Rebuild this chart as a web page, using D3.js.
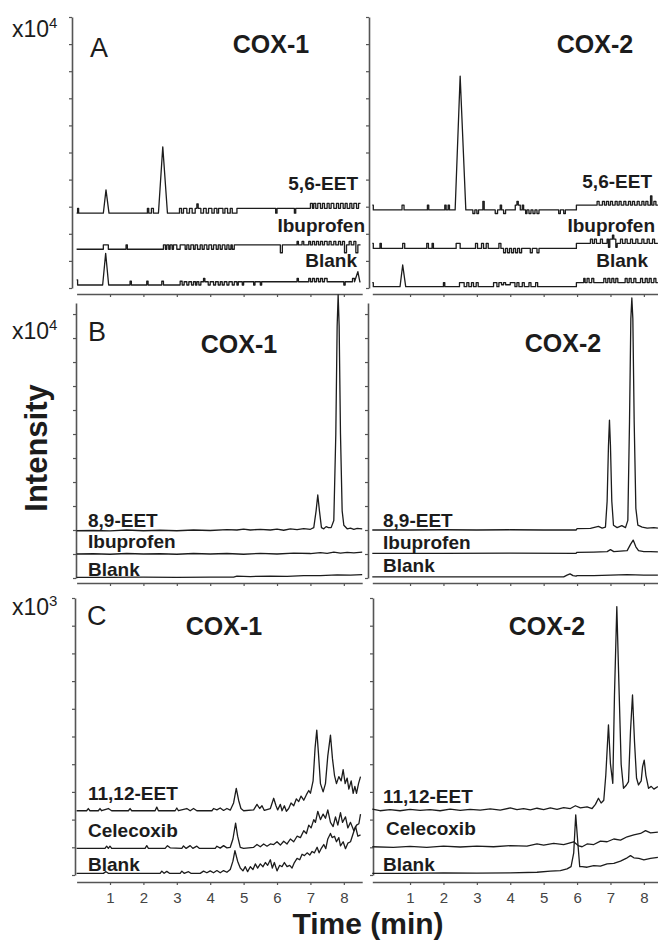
<!DOCTYPE html>
<html>
<head>
<meta charset="utf-8">
<script src="https://cdn.jsdelivr.net/npm/d3@7"></script>
<style>
  body { margin: 0; background: #fff; }
  svg { display: block; font-family: "Liberation Sans", Arial, sans-serif; }
</style>
</head>
<body>
<div id="chart"></div>
<script>
// Time ticks (min) and panel labels
const timeTicks = [1, 2, 3, 4, 5, 6, 7, 8];
const panelLetters = ['A', 'B', 'C'];
const multipliers = ['4', '4', '3'];
const enzymes = ['COX-1', 'COX-2'];
const traceNames = [
	['5,6-EET', 'Ibuprofen', 'Blank'],
	['8,9-EET', 'Ibuprofen', 'Blank'],
	['11,12-EET', 'Celecoxib', 'Blank'],
];

// Intensity in y tick units, [time, value]
// Panel A: digitised traces; a point steps to its value, unless it carries a 1 (then it ramps)
const a1Eet = [[0,2.76],[0.03,2.94],[0.06,2.76],[0.8,2.76],[0.88,3.62,1],[0.97,2.76,1],
	[2.12,2.94],[2.16,2.76],[2.24,2.94],[2.3,2.76],[2.45,2.76],[2.58,5.21,1],[2.72,2.76,1],
	[3.08,2.94],[3.14,2.76],[3.2,2.94],[3.3,2.76],[3.38,2.94],[3.46,2.76],[3.55,2.94],[3.6,3.1],[3.64,2.94],[3.72,2.76],[3.8,2.94],[3.88,2.76],
	[3.95,2.94],[4.05,2.76],[4.12,2.94],[4.2,2.76],[4.25,2.94],[4.38,2.76],[4.44,2.94],[4.52,2.76],[4.6,2.94],[4.66,2.76],[4.8,2.94],
	[5.96,2.76],[6.0,2.94],[6.52,2.76],[6.56,2.94],[7.0,3.12],[7.06,2.94],[7.1,3.12],[7.16,2.94],[7.22,3.12],[7.3,2.94],[7.36,3.12],
	[7.42,2.94],[7.5,3.12],[7.56,2.94],[7.62,3.12],[7.7,2.94],[7.78,3.12],[7.84,2.94],[7.9,3.12],[7.98,2.94],[8.04,3.12],[8.1,2.94],
	[8.18,3.12],[8.24,2.94],[8.3,3.12],[8.38,2.94],[8.44,3.12],[8.5,3.12]];
const a1Ibu = [[0,1.43],[0.8,1.59],[0.95,1.43],[1.48,1.59],[1.52,1.43],[2.6,1.59],[2.66,1.43],[2.7,1.59],[2.76,1.43],[2.8,1.59],[2.86,1.43],
	[2.9,1.59],[3.0,1.43],[3.1,1.59],[3.25,1.43],[3.3,1.59],[3.36,1.43],[3.42,1.59],[3.5,1.43],[3.55,1.59],[3.62,1.43],[3.7,1.59],[3.76,1.43],
	[3.82,1.59],[3.9,1.43],[3.96,1.59],[4.04,1.43],[4.1,1.59],[4.18,1.43],[4.24,1.59],[4.3,1.43],[4.36,1.59],[4.44,1.43],[4.5,1.59],[4.56,1.43],
	[4.62,1.59],[4.66,1.43],[4.72,1.59],[6.1,1.3],[6.16,1.59],[6.6,1.72],[6.64,1.59],[6.75,1.72],[6.8,1.59],[6.95,1.72],[7.0,1.59],[7.06,1.72],
	[7.12,1.59],[7.18,1.72],[7.24,1.59],[7.3,1.72],[7.36,1.59],[7.42,1.72],[7.5,1.59],[7.56,1.72],[7.62,1.59],[7.7,1.72],[7.76,1.59],[7.84,1.72],
	[7.9,1.59],[7.96,1.72],[8.02,1.3],[8.08,1.59],[8.16,1.72],[8.22,1.59],[8.3,1.72],[8.36,1.3],[8.42,1.59],[8.5,1.59]];
const a1Blank = [[0,0.3],[0.03,0.11],[0.78,0.11],[0.87,1.28,1],[0.96,0.11,1],[1.6,0.25],[1.64,0.11],[2.1,0.25],
	[2.14,0.11],[2.55,0.25],[2.6,0.11],[3.1,0.25],[3.16,0.11],[3.22,0.23],[3.3,0.11],[3.36,0.23],[3.44,0.11],[3.5,0.23],[3.56,0.11],[3.6,0.23],
	[3.66,0.11],[3.72,0.23],[3.8,0.35],[3.84,0.23],[3.94,0.11],[4.0,0.23],[4.1,0.11],[4.16,0.23],[4.24,0.11],[4.3,0.23],[4.36,0.11],[4.42,0.23],
	[4.5,0.11],[4.56,0.23],[4.66,0.11],[4.72,0.23],[4.8,0.11],[4.84,0.23],[4.96,0.11],[5.0,0.23],[5.3,0.11],[5.34,0.23],[5.5,0.11],[5.54,0.23],
	[6.6,0.35],[6.64,0.23],[6.95,0.35],[7.0,0.23],[7.06,0.35],[7.12,0.23],[7.18,0.35],[7.24,0.23],[7.3,0.35],[7.36,0.23],[7.42,0.35],[7.5,0.23],
	[8.0,0.11],[8.04,0.23],[8.26,0.35],[8.32,0.23],[8.42,0.6,1],[8.48,0.23,1],[8.5,0.23]];
const a2Eet = [[-0.13,3.06],[-0.1,2.88],[0.76,3.06],[0.82,2.88],[1.52,3.06],[1.56,2.88],[2.04,3.06],[2.08,2.88],[2.14,3.06],[2.18,2.88],
	[2.35,2.88],[2.5,7.82,1],[2.67,2.88,1],
	[2.88,2.75],[2.94,2.88],[3.0,2.75],[3.05,2.88],[3.18,3.2],[3.22,2.88],[3.55,2.75],[3.62,2.88],[3.7,3.06],[3.74,2.88],[3.8,2.75],[3.86,2.88],
	[4.15,3.06],[4.2,3.2],[4.24,3.06],[4.3,2.88],[4.36,3.06],[4.4,2.88],[4.46,2.75],[4.5,2.88],[4.56,2.75],[4.62,2.88],[4.68,2.75],[4.74,2.88],
	[4.8,2.75],[4.86,2.88],[5.45,2.75],[5.5,2.88],[5.6,2.75],[5.65,2.88],[5.98,3.06],[6.6,3.2],[6.66,3.06],[6.76,3.2],[6.82,3.06],[6.88,3.2],
	[6.94,3.06],[7.0,3.2],[7.06,3.06],[7.14,3.2],[7.2,3.06],[7.26,3.2],[7.32,3.06],[7.4,3.2],[7.46,3.06],[7.54,3.2],[7.6,3.06],[7.66,3.2],
	[7.72,3.06],[7.8,3.2],[7.86,3.06],[7.94,3.2],[8.0,3.06],[8.06,3.2],[8.12,3.06],[8.2,3.4],[8.24,3.06],[8.3,3.2],[8.36,3.06],[8.42,3.06]];
const a2Ibu = [[-0.13,1.65],[-0.1,1.46],[0.1,1.65],[0.14,1.46],[0.78,1.65],[0.84,1.46],[1.5,1.65],[1.55,1.46],[1.66,1.65],[1.7,1.46],
	[2.38,1.65],[2.5,1.46],[2.96,1.65],[3.02,1.46],[3.14,1.65],[3.2,1.46],[3.28,1.65],[3.34,1.46],[3.66,1.65],[3.72,1.46],[3.8,1.3],[3.86,1.46],
	[3.92,1.3],[3.98,1.46],[4.04,1.3],[4.1,1.46],[4.16,1.3],[4.22,1.46],[4.28,1.3],[4.34,1.46],[4.6,1.3],[4.66,1.46],[4.8,1.3],[4.86,1.46],
	[5.98,1.65],[6.4,1.8],[6.46,1.65],[6.52,1.8],[6.58,1.65],[6.7,1.8],[6.76,1.65],[6.9,1.8],[6.94,1.5],[6.98,1.8],[7.06,1.95],[7.1,1.8],
	[7.16,1.5],[7.2,1.65],[7.3,1.8],[7.36,1.65],[7.44,1.8],[7.5,1.65],[7.6,1.8],[7.66,1.65],[7.76,1.8],[7.82,1.65],[7.94,1.8],[8.0,1.65],
	[8.1,1.8],[8.16,1.65],[8.26,1.8],[8.32,1.65],[8.42,1.65]];
const a2Blank = [[-0.13,0.2],[-0.1,0.05],[0.7,0.05],[0.78,0.85,1],[0.87,0.05,1],[2.0,0.2],[2.04,0.05],[2.48,0.2],
	[2.62,0.05],[2.7,0.2],[2.76,0.05],[2.84,0.2],[2.9,0.05],[2.98,0.2],[3.04,0.05],[3.5,0.2],[3.6,0.05],[3.66,0.2],[3.74,0.12],[3.8,0.2],
	[3.86,0.12],[4.0,0.2],[4.14,0.05],[4.2,0.2],[4.26,0.05],[4.36,0.2],[4.42,0.05],[4.56,0.2],[4.62,0.05],[4.76,0.2],[4.82,0.05],[5.98,0.2],
	[6.2,0.35],[6.24,0.2],[6.3,0.35],[6.36,0.2],[6.44,0.35],[6.5,0.2],[6.8,0.35],[6.86,0.2],[6.92,0.35],[6.98,0.2],[7.04,0.35],[7.1,0.2],
	[7.16,0.35],[7.22,0.2],[7.44,0.35],[7.5,0.2],[7.56,0.35],[7.62,0.2],[7.7,0.35],[7.76,0.2],[7.9,0.35],[7.96,0.2],[8.04,0.35],[8.1,0.2],
	[8.16,0.35],[8.22,0.2],[8.3,0.35],[8.36,0.2],[8.42,0.2]];

// Panel B
const b1Eet = [[0,1.97],[0.5,1.98],[1,1.96],[1.5,2.0],[2,1.97],[2.5,1.99],[3,1.97],[3.5,2.0],[4,1.98],[4.5,2.02],[4.8,2.0],[5,2.04],[5.2,2.0],
	[5.5,2.03],[5.8,2.0],[6,2.04],[6.2,1.99],[6.4,2.05],[6.6,2.02],[6.8,2.06],[7,2.03],[7.1,2.1],[7.17,2.8],[7.22,3.46],[7.27,2.8],[7.33,2.1],
	[7.4,2.05],[7.47,2.14],[7.54,2.1],[7.62,2.1],[7.7,2.4],[7.76,6.0],[7.8,10.5],[7.83,11.8],[7.86,10.5],[7.9,6.0],[7.95,2.8],[8,2.2],
	[8.1,2.05],[8.2,2.08],[8.3,2.03],[8.4,2.07],[8.55,2.05]];
const b1Ibu = [[0,1.0],[0.5,1.01],[1,0.99],[1.5,1.02],[2,1.0],[2.5,1.01],[3,0.99],[3.5,1.02],[4,1.0],[4.5,1.02],[5,0.99],[5.5,1.03],[6,1.0],
	[6.5,1.04],[7,1.02],[7.3,1.06],[7.5,1.03],[7.7,1.08],[7.9,1.04],[8.1,1.07],[8.3,1.05],[8.55,1.08]];
const b1Blank = [[0,0.03],[1,0.03],[2,0.04],[3,0.03],[4,0.04],[4.7,0.04],[4.8,0.08],[5.2,0.06],[5.8,0.08],[6.3,0.07],[6.8,0.1],[7.3,0.1],
	[7.8,0.13],[8.2,0.12],[8.55,0.14]];
const b2Eet = [[-0.13,2.0],[1,2.0],[2,2.01],[3,2.0],[4,2.01],[5,2.0],[5.97,2.0],[6,2.06],[6.4,2.07],[6.64,2.15],[6.75,2.08],[6.85,2.12],
	[6.9,3.2],[6.94,5.5],[6.97,6.58],[7,5.5],[7.04,3.2],[7.09,2.2],[7.2,2.1],[7.34,2.18],[7.45,2.1],[7.52,2.4],[7.57,6.5],[7.61,10.8],
	[7.64,11.67],[7.67,10.8],[7.71,6.5],[7.76,2.9],[7.82,2.2],[7.95,2.12],[8.1,2.08],[8.3,2.1],[8.42,2.08]];
const b2Ibu = [[-0.13,1.03],[2,1.03],[4,1.04],[5.97,1.03],[6,1.07],[6.5,1.08],[6.9,1.1],[7,1.18],[7.1,1.1],[7.3,1.12],[7.5,1.14],[7.6,1.4],
	[7.68,1.58],[7.76,1.3],[7.84,1.14],[8,1.1],[8.2,1.1],[8.42,1.09]];
const b2Blank = [[-0.13,0.05],[3,0.05],[5.6,0.05],[5.7,0.12],[5.79,0.17],[5.88,0.1],[5.97,0.08],[6,0.1],[6.5,0.1],[7,0.12],[7.5,0.14],
	[8,0.12],[8.42,0.12]];

// Panel C
const c1Eet = [[0,2.32],[0.3,2.32],[0.35,2.4],[0.4,2.32],[0.65,2.32],[0.7,2.4],[0.75,2.32],[0.95,2.4],[1.05,2.32],[1.55,2.32],[1.6,2.4],
	[1.65,2.32],[2.35,2.32],[2.4,2.45],[2.45,2.32],[2.95,2.32],[3,2.42],[3.05,2.32],[3.3,2.4],[3.4,2.32],[3.5,2.4],[3.6,2.32],[4.05,2.32],
	[4.1,2.4],[4.2,2.35],[4.3,2.42],[4.4,2.33],[4.5,2.4],[4.6,2.34],[4.7,2.6],[4.78,3.13],[4.85,2.7],[4.92,2.4],[5,2.32],[5.3,2.35],[5.4,2.55],
	[5.48,2.4],[5.55,2.5],[5.62,2.33],[5.8,2.4],[5.9,2.77],[5.97,2.5],[6.02,2.35],[6.1,2.55],[6.15,2.32],[6.22,2.5],[6.28,2.3],[6.35,2.4],
	[6.42,2.6],[6.5,2.5],[6.58,2.75],[6.65,2.65],[6.72,2.85],[6.8,2.7],[6.88,2.9],[6.95,3.05],[7,2.95],[7.08,3.4],[7.14,4.6],[7.19,5.23],
	[7.24,4.4],[7.3,3.3],[7.38,3.0],[7.45,3.3],[7.52,4.3],[7.6,5.05],[7.66,4.2],[7.72,3.6],[7.78,3.3],[7.85,3.55],[7.92,3.4],[7.98,3.8],
	[8.04,3.3],[8.1,3.5],[8.15,3.1],[8.22,3.4],[8.28,2.95],[8.33,3.2],[8.38,2.95],[8.44,3.3],[8.5,3.55]];
const c1Cel = [[0,0.96],[0.85,0.96],[0.9,1.04],[0.95,0.96],[1,1.04],[1.05,0.96],[2.05,0.96],[2.1,1.06],[2.15,0.96],[2.65,0.96],[2.72,1.06],
	[2.8,0.98],[3.15,0.96],[3.2,1.05],[3.28,0.96],[3.4,1.06],[3.48,0.96],[3.6,1.04],[3.68,0.96],[4.15,0.96],[4.2,1.04],[4.3,0.97],[4.4,1.06],
	[4.5,0.98],[4.6,1.0],[4.68,1.3],[4.76,1.87],[4.82,1.4],[4.9,1.0],[5,0.96],[5.3,1.0],[5.4,1.1],[5.5,1.02],[5.6,1.12],[5.7,1.04],[5.8,1.12],
	[5.9,1.1],[6,1.2],[6.1,1.08],[6.2,1.22],[6.3,1.12],[6.4,1.3],[6.5,1.2],[6.6,1.4],[6.7,1.35],[6.8,1.6],[6.88,1.5],[6.95,1.8],[7.02,1.7],
	[7.1,2.0],[7.15,1.9],[7.22,2.3],[7.3,2.0],[7.38,2.2],[7.45,2.05],[7.52,2.35],[7.6,1.9],[7.68,1.75],[7.75,2.1],[7.82,1.8],[7.9,2.25],
	[7.96,1.9],[8.05,2.1],[8.12,1.7],[8.2,1.9],[8.3,1.6],[8.38,1.8],[8.45,1.85],[8.5,2.2]];
const c1Blank = [[0,0.06],[0.8,0.06],[0.88,0.12],[0.95,0.06],[2.5,0.06],[2.55,0.14],[2.62,0.06],[2.7,0.13],[2.78,0.06],[3.1,0.06],[3.15,0.14],
	[3.22,0.06],[3.35,0.12],[3.42,0.06],[3.7,0.06],[3.8,0.14],[3.9,0.08],[4,0.15],[4.1,0.08],[4.2,0.16],[4.3,0.08],[4.4,0.16],[4.5,0.1],
	[4.6,0.2],[4.68,0.5],[4.74,0.88],[4.82,0.5],[4.9,0.25],[4.98,0.15],[5.05,0.3],[5.12,0.12],[5.2,0.3],[5.28,0.2],[5.35,0.4],[5.42,0.25],
	[5.5,0.4],[5.58,0.3],[5.65,0.45],[5.72,0.35],[5.8,0.55],[5.86,0.25],[5.92,0.45],[6,0.15],[6.08,0.35],[6.15,0.3],[6.22,0.45],[6.3,0.3],
	[6.38,0.35],[6.45,0.25],[6.52,0.45],[6.6,0.6],[6.68,0.55],[6.75,0.75],[6.82,0.7],[6.9,0.8],[6.98,0.72],[7.05,0.85],[7.12,0.8],[7.2,1.0],
	[7.26,0.8],[7.32,0.95],[7.4,1.1],[7.46,0.95],[7.52,1.3],[7.6,1.5],[7.65,1.35],[7.72,1.4],[7.78,1.2],[7.85,1.35],[7.9,1.05],[7.98,1.2],
	[8.05,0.95],[8.12,1.15],[8.2,1.2],[8.28,1.5],[8.35,1.75],[8.42,1.4],[8.5,1.45]];
const c2Eet = [[-0.13,2.38],[0.1,2.32],[0.4,2.36],[0.7,2.32],[1,2.37],[1.3,2.33],[1.6,2.36],[1.9,2.32],[2.2,2.38],[2.5,2.33],[2.8,2.37],
	[3.1,2.34],[3.4,2.39],[3.7,2.34],[4,2.42],[4.2,2.36],[4.4,2.4],[4.6,2.35],[4.8,2.41],[5,2.36],[5.2,2.42],[5.4,2.37],[5.6,2.43],[5.8,2.4],
	[5.95,2.5],[6.1,2.42],[6.3,2.46],[6.45,2.4],[6.55,2.55],[6.64,2.77],[6.72,2.6],[6.8,2.7],[6.86,3.6],[6.94,5.42],[7,4.0],[7.07,3.31],
	[7.12,6.5],[7.19,9.69],[7.25,7.0],[7.32,4.0],[7.39,3.13],[7.48,3.25],[7.54,3.37],[7.6,5.2],[7.66,6.5],[7.72,4.8],[7.78,3.5],[7.84,3.25],
	[7.92,3.4],[7.96,3.9],[8.01,4.15],[8.06,3.6],[8.14,3.13],[8.22,3.2],[8.3,3.1],[8.42,3.19]];
const c2Cel = [[-0.13,1.02],[0.5,1.0],[1,1.03],[1.5,1.0],[2,1.04],[2.5,1.01],[3,1.04],[3.5,1.02],[4,1.06],[4.5,1.04],[4.8,1.12],[5,1.08],
	[5.3,1.14],[5.6,1.1],[5.9,1.2],[6.05,1.05],[6.15,1.02],[6.3,1.12],[6.5,1.1],[6.7,1.22],[6.9,1.2],[7.1,1.3],[7.3,1.26],[7.5,1.38],
	[7.7,1.45],[7.9,1.5],[8.05,1.6],[8.2,1.52],[8.42,1.55]];
const c2Blank = [[-0.13,0.06],[1,0.06],[2,0.08],[3,0.07],[4,0.08],[4.8,0.1],[5.2,0.14],[5.5,0.16],[5.7,0.22],[5.82,0.3],[5.9,0.8],
	[5.96,2.17],[6.02,1.2],[6.08,0.3],[6.15,0.3],[6.3,0.28],[6.5,0.34],[6.7,0.32],[6.9,0.4],[7.1,0.42],[7.3,0.5],[7.5,0.62],[7.6,0.7],
	[7.7,0.62],[7.85,0.6],[8,0.55],[8.2,0.6],[8.42,0.64]];

const traces = [
	[[a1Eet, a1Ibu, a1Blank], [a2Eet, a2Ibu, a2Blank]],
	[[b1Eet, b1Ibu, b1Blank], [b2Eet, b2Ibu, b2Blank]],
	[[c1Eet, c1Cel, c1Blank], [c2Eet, c2Cel, c2Blank]],
];

// Turn step-coded points into a polyline: a plain point steps, a flagged one ramps
function expandSteps(series) {
	const out = [];
	series.forEach((p, i) => {
		if (i > 0 && !p[2]) out.push([p[0], series[i - 1][1]]);
		out.push([p[0], p[1]]);
	});
	return out;
}

// Layout
const width = 658, height = 943;
const rows = [
	{ top: 17, bottom: 288, axisY: 294, vmax: 10, yAxisX: [72, 369], step: true,
		letter: [90, 57], mult: 37, title: [[271, 53], [595, 53]],
		labels: [[[358, 190, 'end'], [365, 232, 'end'], [357, 267, 'end']], [[652, 188, 'end'], [655, 232, 'end'], [648, 267, 'end']]] },
	{ top: 303, bottom: 578, axisY: 583, vmax: 11.46, yAxisX: [76, 368], step: false,
		letter: [88, 341], mult: 339, title: [[239, 353], [563, 352]],
		labels: [[[88, 527, 'start'], [88, 548, 'start'], [88, 576, 'start']], [[383, 527, 'start'], [383, 549, 'start'], [383, 572, 'start']]] },
	{ top: 598, bottom: 875, axisY: 882, vmax: 10, yAxisX: [75, 373], step: false,
		letter: [87, 625], mult: 615, title: [[224, 635], [547, 635]],
		labels: [[[88, 800, 'start'], [88, 837, 'start'], [88, 871, 'start']], [[383, 803, 'start'], [386, 835, 'start'], [383, 871, 'start']]] },
];
const xScales = [
	d3.scaleLinear().domain([0, 8.55]).range([76.6, 362.2]),
	d3.scaleLinear().domain([-0.13, 8.42]).range([372.3, 657.9]),
];

const svg = d3.select('#chart').append('svg').attr('width', width).attr('height', height);
const axisColor = '#555';
const inkColor = '#1c1c1c';

rows.forEach((row, r) => {
	const y = d3.scaleLinear().domain([0, row.vmax]).range([row.bottom, row.top]);

	[0, 1].forEach((c) => {
		const x = xScales[c];

		// Y axis (unlabelled ticks)
		const yAxis = svg.append('g')
			.attr('transform', `translate(${row.yAxisX[c]},0)`)
			.call(d3.axisLeft(y).tickValues(d3.range(0, Math.floor(row.vmax) + 1)).tickSize(3).tickSizeOuter(0).tickFormat(''));
		yAxis.select('.domain').attr('stroke', axisColor).attr('stroke-width', 1.6);
		yAxis.selectAll('.tick line').attr('stroke', axisColor).attr('stroke-width', 1.2);

		// X axis
		const xAxis = svg.append('g')
			.attr('transform', `translate(0,${row.axisY})`)
			.call(d3.axisBottom(x).tickValues(timeTicks).tickSize(3).tickSizeOuter(0).tickPadding(7)
				.tickFormat(r === 2 ? d3.format('d') : ''));
		xAxis.select('.domain').attr('stroke', axisColor).attr('stroke-width', 1.6);
		xAxis.selectAll('.tick line').attr('stroke', axisColor).attr('stroke-width', 1.2);
		xAxis.selectAll('.tick text').attr('fill', '#444').style('font-size', '15px');

		// Traces
		const line = d3.line()
			.x((d) => x(d[0]))
			.y((d) => y(d[1]));
		traces[r][c].forEach((series) => {
			svg.append('path')
				.datum(row.step ? expandSteps(series) : series)
				.attr('d', line)
				.attr('fill', 'none')
				.attr('stroke', inkColor)
				.attr('stroke-width', 1.3)
				.attr('stroke-linejoin', 'round');
		});

		// Trace labels
		row.labels[c].forEach((lab, i) => {
			svg.append('text')
				.attr('x', lab[0])
				.attr('y', lab[1])
				.attr('text-anchor', lab[2])
				.attr('fill', inkColor)
				.style('font-size', '19px')
				.style('font-weight', 'bold')
				.text(traceNames[r][i]);
		});

		// COX title
		svg.append('text')
			.attr('x', row.title[c][0])
			.attr('y', row.title[c][1])
			.attr('text-anchor', 'middle')
			.attr('fill', inkColor)
			.style('font-size', '25px')
			.style('font-weight', 'bold')
			.text(enzymes[c]);
	});

	// Panel letter
	svg.append('text')
		.attr('x', row.letter[0])
		.attr('y', row.letter[1])
		.attr('fill', inkColor)
		.style('font-size', '27px')
		.text(panelLetters[r]);

	// Multiplier x10^n
	const m = svg.append('text')
		.attr('x', 12)
		.attr('y', row.mult)
		.attr('fill', inkColor)
		.style('font-size', '23px');
	m.append('tspan').text('x10');
	m.append('tspan').attr('dy', -9).style('font-size', '15px').text(multipliers[r]);
});

// Axis titles
svg.append('text')
	.attr('transform', 'translate(47,448) rotate(-90)')
	.attr('text-anchor', 'middle')
	.attr('fill', inkColor)
	.style('font-size', '31px')
	.style('font-weight', 'bold')
	.text('Intensity');

svg.append('text')
	.attr('x', 368)
	.attr('y', 934)
	.attr('text-anchor', 'middle')
	.attr('fill', inkColor)
	.style('font-size', '30px')
	.style('font-weight', 'bold')
	.text('Time (min)');
</script>
</body>
</html>
